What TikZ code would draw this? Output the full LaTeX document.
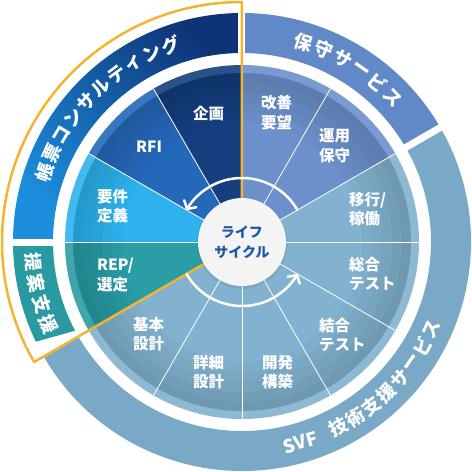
\documentclass[tikz,border=0pt]{standalone}
\usepackage{fontspec}
\setmainfont{Noto Sans CJK JP}
\usetikzlibrary{arrows.meta}
\definecolor{kikaku}{HTML}{143E7E}
\definecolor{rfi}{HTML}{2468BA}
\definecolor{youken}{HTML}{2EB2EE}
\definecolor{rep}{HTML}{2A9DA7}
\definecolor{steel}{HTML}{82B2CF}
\definecolor{peri}{HTML}{6C90CC}
\definecolor{navyA}{HTML}{1C8EDC}
\definecolor{navyB}{HTML}{0E3376}
\definecolor{hoshu}{HTML}{6289C7}
\definecolor{svf}{HTML}{79A9C7}
\definecolor{teian}{HTML}{2A9AA2}
\definecolor{gold}{HTML}{F4B431}
\definecolor{centertext}{HTML}{1D58A8}
\definecolor{centerfill}{HTML}{F4F4F4}
\newcommand\wseg[3]{\fill[#3] (0,0) -- (#1:177) arc[start angle=#1,end angle=#2,radius=177] -- cycle;}
\newcommand\bandseg[3]{\path[#3] (#1:189) arc[start angle=#1,end angle=#2,radius=189] -- (#2:229) arc[start angle=#2,end angle=#1,radius=229] -- cycle;}
\begin{document}
\begin{tikzpicture}[x=1pt,y=1pt,
  lbl/.style={text=white,font=\bfseries\fontsize{15.5}{19.5}\selectfont,align=left,inner sep=0pt,anchor=west},
  bandtxt/.style={text=white,font=\bfseries\fontsize{18.5}{18.5}\selectfont,inner sep=0pt},
  sepline/.style={white,line width=0.8pt},
  gapline/.style={white,line width=7pt},
  cyc/.style={white,line width=2.5pt,line cap=round,-{Straight Barb[length=6pt,width=14pt,round]}}]
\useasboundingbox (-242,-230) rectangle (230,242);
\fill[white] (-242,-230) rectangle (230,242);
% outer bands
\bandseg{90}{180}{shade,top color=navyB,bottom color=navyA,shading angle=-45}
\bandseg{30}{90}{fill=hoshu}
\bandseg{210.3}{390}{fill=svf}
\fill[teian] (180:189) arc[start angle=180,end angle=208,radius=189] -- (205.8:229) arc[start angle=205.8,end angle=180,radius=229] -- cycle;
\foreach \g in {30,90,180} \draw[gapline] (\g:183) -- (\g:235);
% wheel
\wseg{90}{120}{kikaku}
\wseg{120}{150}{rfi}
\wseg{150}{180}{youken}
\wseg{180}{210}{rep}
\wseg{210}{360}{steel}
\wseg{0}{30}{steel}
\wseg{30}{90}{peri}
\foreach \r in {120,130,140,150,160} \fill[black,fill opacity=0.028,even odd rule] (0,0) circle (169) (0,0) circle (\r);
\fill[white,fill opacity=0.1,even odd rule] (0,0) circle (177) (0,0) circle (169);
\foreach \g in {0,30,60,120,150,180,240,270,300,330} \draw[sepline] (0,0) -- (\g:177);
% yellow outline
\draw[gold,line width=2.5pt,line join=round] (90:44) -- (90:240) arc[start angle=90,end angle=210,radius=240] -- (210:44);
% cycle arrows
\draw[cyc] (30:64) arc[start angle=30,end angle=150,radius=64];
\draw[cyc] (210:64) arc[start angle=210,end angle=330,radius=64];
% center
\fill[black,fill opacity=0.06] (0,-1.5) circle (45.5);
\node[circle,fill=centerfill,minimum size=88pt,inner sep=0pt,text=centertext,align=center,font=\bfseries\fontsize{14}{20}\selectfont] (center) at (0,0) {ライフ\\サイクル};
% wheel labels
\node[lbl] (kikakuL) at (-49,128) {企画};
\node[lbl] (rfiL) at (-106,95) {RFI};
\node[lbl] (youkenL) at (-145,36) {要件\\定義};
\node[lbl] (repL) at (-145,-33) {REP/\\選定};
\node[lbl] (kihonL) at (-109,-92) {基本\\設計};
\node[lbl] (shousaiL) at (-49,-130) {詳細\\設計};
\node[lbl] (kaihatsuL) at (20,-130) {開発\\構築};
\node[lbl] (ketsugouL) at (77,-93) {結合\\テスト};
\node[lbl] (sougouL) at (107,-32) {総合\\テスト};
\node[lbl] (ikouL) at (107,33) {移行/\\稼働};
\node[lbl] (unyouL) at (77,96) {運用\\保守};
\node[lbl] (kaizenL) at (19,129.5) {改善\\要望};
% band texts
\foreach \a/\c [count=\i] in {160.7/帳,155.0/票,149.4/コ,143.7/ン,138.1/サ,132.4/ル,126.7/テ,121.1/ィ,115.4/ン,109.8/グ}
  \node[bandtxt,rotate=\a-90] (cons\i) at (\a:209) {\c};
\foreach \a/\c [count=\i] in {72.8/保,67.0/守,61.2/サ,55.4/ー,49.6/ビ,43.8/ス}
  \node[bandtxt,rotate=\a-90] (hos\i) at (\a:209) {\c};
\foreach \a/\c [count=\i] in {185.5/提,191.4/案,197.3/支,203.2/援}
  \node[bandtxt,rotate=\a+90] (tei\i) at (\a:210) {\c};
\node[bandtxt,rotate=16.4] (svfL) at (286.2:209) {SVF};
\foreach \a/\c [count=\i] in {297.5/技,302.9/術,308.3/支,313.7/援,319.1/サ,324.5/ー,329.9/ビ,335.3/ス}
  \node[bandtxt,rotate=\a+90] (svf\i) at (\a:209) {\c};
\end{tikzpicture}
\end{document}
